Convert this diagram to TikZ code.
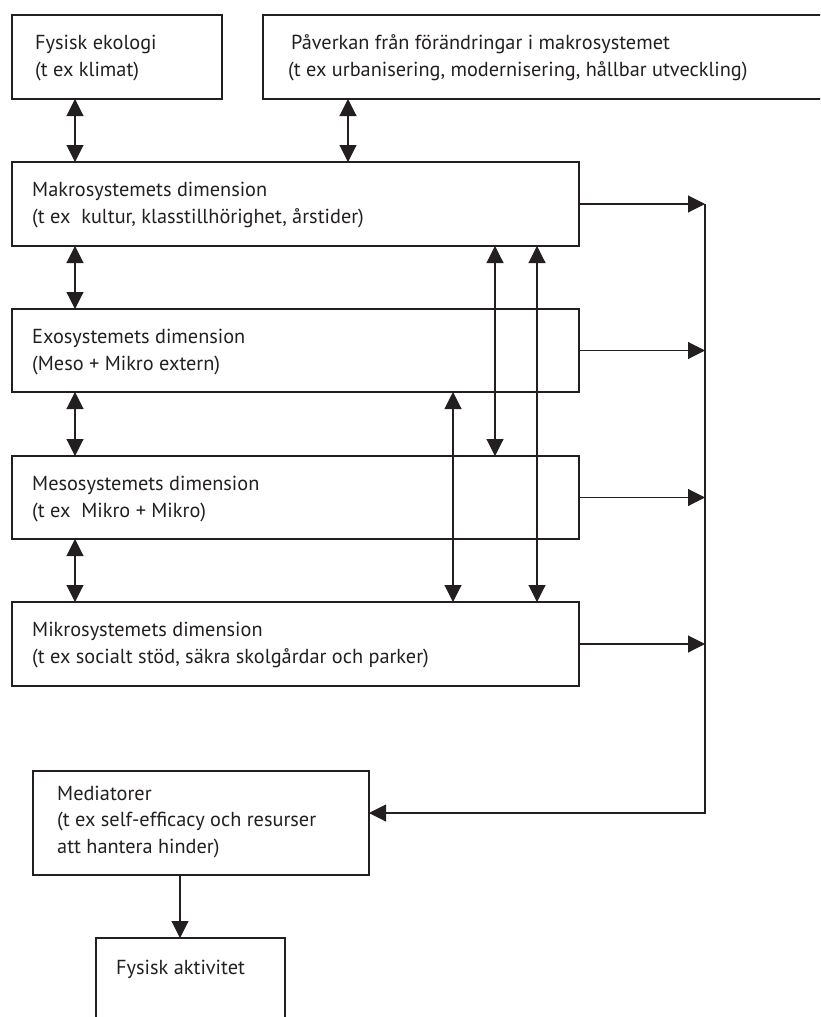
\documentclass[tikz,border=0pt]{standalone}
\usepackage{fontspec}
\setmainfont{PT Sans}
\usetikzlibrary{arrows.meta}
\definecolor{ink}{HTML}{231F20}
\begin{document}
\begin{tikzpicture}[x=1pt,y=-1pt,
  box/.style={draw=ink,line width=1.1pt,anchor=north west,inner sep=0pt,outer sep=0pt},
  txt/.style={anchor=base west,inner sep=0pt,align=left,font=\fontsize{20.3}{26.2}\selectfont,text=ink},
  con/.style={draw=ink,line width=1.1pt},
  tip/.style={con,-{Triangle[length=17pt,width=17pt]}},
  both/.style={con,{Triangle[length=17pt,width=17pt]}-{Triangle[length=17pt,width=17pt]}}]
\useasboundingbox (0,0) rectangle (820,1017);
\clip (0,0) rectangle (820,1017);
% boxes
\node[box,minimum width=210pt,minimum height=84pt] (fe) at (12,15) {};
\node[box,minimum width=570pt,minimum height=84pt] (pa) at (263,15) {};
\node[box,minimum width=567pt,minimum height=84pt] (makro) at (12,162) {};
\node[box,minimum width=567pt,minimum height=83pt] (exo) at (12,309) {};
\node[box,minimum width=567pt,minimum height=83pt] (meso) at (12,456) {};
\node[box,minimum width=567pt,minimum height=84pt] (mikro) at (12,602) {};
\node[box,minimum width=336pt,minimum height=104pt] (med) at (33,771) {};
\node[box,minimum width=189pt,minimum height=120pt] (fa) at (96,938) {};
% texts (anchor = baseline of the last line)
\node[txt] (tfe) at (35,76) {Fysisk ekologi\\(t ex klimat)};
\node[txt] (tpa) at (288,76) {\hspace{3pt}Påverkan från förändringar i makrosystemet\\(t ex urbanisering, modernisering, hållbar utveckling)};
\node[txt] (tmakro) at (32,223) {Makrosystemets dimension\\(t ex~~kultur, klasstillhörighet, årstider)};
\node[txt] (texo) at (32,370) {Exosystemets dimension\\(Meso + Mikro extern)};
\node[txt] (tmeso) at (32,517) {Mesosystemets dimension\\(t ex~~Mikro + Mikro)};
\node[txt] (tmikro) at (32,663) {Mikrosystemets dimension\\(t ex socialt stöd, säkra skolgårdar och parker)};
\node[txt] (tmed) at (57,853) {Mediatorer\\(t ex self-efficacy och resurser\\att hantera hinder)};
\node[txt] (tfa) at (116,974) {Fysisk aktivitet};
% x positions of vertical connectors
\coordinate (xa) at (75,0);
\coordinate (xb) at (348,0);
\coordinate (xc) at (453,0);
\coordinate (xd) at (495,0);
\coordinate (xe) at (537,0);
\coordinate (xr) at (705,0);
\coordinate (xm) at (180,0);
% connectors
\draw[both] (fe.south -| xa) -- (makro.north -| xa);
\draw[both] (pa.south -| xb) -- (makro.north -| xb);
\draw[both] (makro.south -| xa) -- (exo.north -| xa);
\draw[both] (exo.south -| xa) -- (meso.north -| xa);
\draw[both] (meso.south -| xa) -- (mikro.north -| xa);
\draw[both] (makro.south -| xd) -- (meso.north -| xd);
\draw[both] (makro.south -| xe) -- (mikro.north -| xe);
\draw[both] (exo.south -| xc) -- (mikro.north -| xc);
\draw[tip] (makro.east) -- (makro.east -| xr);
\draw[tip] (exo.east) -- (exo.east -| xr);
\draw[tip] (meso.east) -- (meso.east -| xr);
\draw[tip] (mikro.east) -- (mikro.east -| xr);
\draw[tip] (makro.east -| xr) |- ([yshift=10pt]med.east);
\draw[tip] (med.south -| xm) -- (fa.north -| xm);
\end{tikzpicture}
\end{document}
